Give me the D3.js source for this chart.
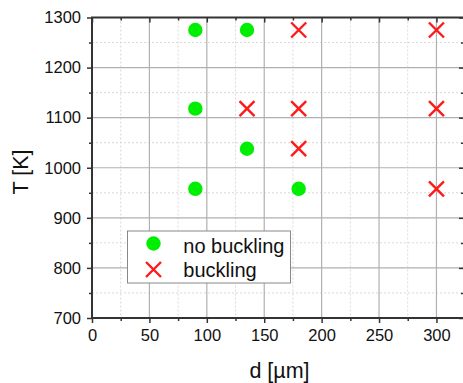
<!DOCTYPE html>
<html>
<head>
<meta charset="utf-8">
<script src="https://cdn.jsdelivr.net/npm/d3@7"></script>
<style>
  html, body { margin: 0; padding: 0; background: #fff; }
  svg { display: block; font-family: "Liberation Sans", Arial, sans-serif; }
</style>
</head>
<body>
<svg id="chart" width="463" height="383"></svg>
<script>
// Diameter d [µm] and temperature T [K] for each tested sample
const noBucklingD = [90, 135, 90, 135, 90, 180];
const noBucklingT = [1275, 1275, 1118, 1038, 958, 958];
const bucklingD = [180, 300, 135, 180, 300, 180, 300];
const bucklingT = [1275, 1275, 1118, 1118, 1118, 1038, 958];

const xTicks = [0, 50, 100, 150, 200, 250, 300];
const yTicks = [700, 800, 900, 1000, 1100, 1200, 1300];
const xMinor = [25, 75, 125, 175, 225, 275];
const yMinor = [750, 850, 950, 1050, 1150, 1250];
const legendLabels = ["no buckling", "buckling"];

(function () {
const svg = d3.select("#chart");
const pLeft = 92, pRight = 464, pTop = 17.5, pBottom = 318;

const x = d3.scaleLinear().domain([0, 324]).range([pLeft, pRight]);
const y = d3.scaleLinear().domain([700, 1300]).range([pBottom, pTop]);

const grid = svg.append("g");
// minor dotted grid
grid.selectAll(".vmin").data(xMinor).join("line")
  .attr("x1", d => x(d)).attr("x2", d => x(d)).attr("y1", pTop).attr("y2", pBottom)
  .attr("stroke", "#d9d9d9").attr("stroke-width", 1).attr("stroke-dasharray", "2,2");
grid.selectAll(".hmin").data(yMinor).join("line")
  .attr("x1", pLeft).attr("x2", pRight).attr("y1", d => y(d)).attr("y2", d => y(d))
  .attr("stroke", "#d9d9d9").attr("stroke-width", 1).attr("stroke-dasharray", "2,2");
// major solid grid
grid.selectAll(".vmaj").data(xTicks.slice(1)).join("line")
  .attr("x1", d => x(d)).attr("x2", d => x(d)).attr("y1", pTop).attr("y2", pBottom)
  .attr("stroke", "#b0b0b0").attr("stroke-width", 1.2);
grid.selectAll(".hmaj").data(yTicks.slice(1, -1)).join("line")
  .attr("x1", pLeft).attr("x2", pRight).attr("y1", d => y(d)).attr("y2", d => y(d))
  .attr("stroke", "#b0b0b0").attr("stroke-width", 1.2);

const axisColor = "#333";
function styleAxis(g) {
  g.select(".domain").remove();
  g.selectAll("line").attr("stroke", axisColor).attr("stroke-width", 1.5);
  g.selectAll("text").attr("fill", "#111").style("font-size", "16.5px")
    .style("font-family", "'Liberation Sans', Arial, sans-serif");
}

// bottom axis
svg.append("g").attr("transform", `translate(0,${pBottom})`)
  .call(d3.axisBottom(x).tickValues(xTicks).tickSize(5).tickPadding(6).tickFormat(d3.format("d")))
  .call(styleAxis);
svg.append("g").attr("transform", `translate(0,${pBottom})`)
  .call(d3.axisBottom(x).tickValues(xMinor).tickSize(3).tickFormat(""))
  .call(styleAxis);
// left axis
svg.append("g").attr("transform", `translate(${pLeft},0)`)
  .call(d3.axisLeft(y).tickValues(yTicks).tickSize(5).tickPadding(6).tickFormat(d3.format("d")))
  .call(styleAxis);
svg.append("g").attr("transform", `translate(${pLeft},0)`)
  .call(d3.axisLeft(y).tickValues(yMinor).tickSize(3).tickFormat(""))
  .call(styleAxis);
// top axis (inward ticks)
svg.append("g").attr("transform", `translate(0,${pTop})`)
  .call(d3.axisBottom(x).tickValues(xTicks).tickSize(5).tickFormat(""))
  .call(styleAxis);
svg.append("g").attr("transform", `translate(0,${pTop})`)
  .call(d3.axisBottom(x).tickValues(xMinor).tickSize(3).tickFormat(""))
  .call(styleAxis);
// right axis (inward ticks)
svg.append("g").attr("transform", `translate(${pRight},0)`)
  .call(d3.axisLeft(y).tickValues(yTicks).tickSize(5).tickFormat(""))
  .call(styleAxis);
svg.append("g").attr("transform", `translate(${pRight},0)`)
  .call(d3.axisLeft(y).tickValues(yMinor).tickSize(3).tickFormat(""))
  .call(styleAxis);

// frame lines
svg.append("line").attr("x1", pLeft).attr("x2", pLeft).attr("y1", pTop).attr("y2", pBottom + 0.75)
  .attr("stroke", axisColor).attr("stroke-width", 2);
svg.append("line").attr("x1", pLeft - 1).attr("x2", pRight).attr("y1", pBottom).attr("y2", pBottom)
  .attr("stroke", axisColor).attr("stroke-width", 2);
svg.append("line").attr("x1", pLeft - 1).attr("x2", pRight).attr("y1", pTop).attr("y2", pTop)
  .attr("stroke", axisColor).attr("stroke-width", 2);
svg.append("line").attr("x1", pRight).attr("x2", pRight).attr("y1", pTop).attr("y2", pBottom)
  .attr("stroke", axisColor).attr("stroke-width", 2);

// axis titles
svg.append("text").attr("x", 279.5).attr("y", 378).attr("text-anchor", "middle")
  .style("font-size", "21.5px").attr("fill", "#111")
  .text("d [µm]");
svg.append("text").attr("transform", "translate(27.5,172) rotate(-90)").attr("text-anchor", "middle")
  .style("font-size", "21.5px").attr("fill", "#111")
  .text("T [K]");

const green = "#00ee00", red = "#ff1a1a";
const crossPath = s => `M${-s},${-s}L${s},${s}M${-s},${s}L${s},${-s}`;

// data markers
svg.append("g").selectAll("circle").data(noBucklingD.map((d, i) => [d, noBucklingT[i]])).join("circle")
  .attr("cx", d => x(d[0])).attr("cy", d => y(d[1])).attr("r", 7.2).attr("fill", green);
svg.append("g").selectAll("path").data(bucklingD.map((d, i) => [d, bucklingT[i]])).join("path")
  .attr("transform", d => `translate(${x(d[0])},${y(d[1])})`)
  .attr("d", crossPath(7.5)).attr("stroke", red).attr("stroke-width", 2.4).attr("fill", "none");

// legend
const lg = svg.append("g").attr("transform", "translate(127.5,231)");
lg.append("rect").attr("width", 163).attr("height", 52).attr("fill", "#fff")
  .attr("stroke", "#888").attr("stroke-width", 1);
lg.append("circle").attr("cx", 26).attr("cy", 12.5).attr("r", 7.2).attr("fill", green);
lg.append("path").attr("transform", "translate(26,38.5)").attr("d", crossPath(7.5))
  .attr("stroke", red).attr("stroke-width", 2.4).attr("fill", "none");
lg.selectAll("text").data(legendLabels).join("text")
  .attr("x", 55.8).attr("y", (d, i) => 21.5 + i * 24.5)
  .style("font-size", "20px").attr("fill", "#111").text(d => d);
})();
</script>
</body>
</html>
